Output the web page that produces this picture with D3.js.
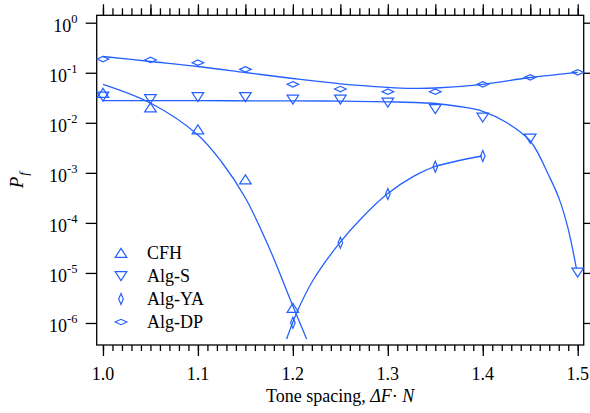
<!DOCTYPE html>
<html><head><meta charset="utf-8">
<script src="https://cdn.jsdelivr.net/npm/d3@7"></script>
<style>
body{margin:0;background:#fff}
svg{display:block}
text{font-family:"Liberation Serif","Times New Roman",serif;fill:#000}
</style>
</head><body>
<svg id="chart" width="590" height="413"></svg>
<script>
// ---------- data ----------
const seriesNames = ["CFH", "Alg-S", "Alg-YA", "Alg-DP"];

const cfhX    = [1.00, 1.05, 1.10, 1.15, 1.20];
const cfhVals = [0.0394, 0.0202, 0.00735, 7.36e-4, 2.0e-6];

const algSX    = [1.00, 1.05, 1.10, 1.15, 1.20, 1.25, 1.30, 1.35, 1.40, 1.45, 1.50];
const algSVals = [0.0335, 0.0299, 0.0328, 0.0328, 0.0292, 0.0292, 0.0255, 0.0189, 0.0128, 0.00486, 1.02e-5];

const algYAX    = [1.20, 1.25, 1.30, 1.35, 1.40];
const algYAVals = [1.01e-6, 4.02e-5, 3.78e-4, 1.33e-3, 2.17e-3];

const algDPX    = [1.00, 1.05, 1.10, 1.15, 1.20, 1.25, 1.30, 1.35, 1.40, 1.45, 1.50];
const algDPVals = [0.188, 0.180, 0.159, 0.117, 0.0588, 0.0473, 0.0418, 0.0418, 0.0588, 0.0811, 0.102];

// fitted curves
const cfhFitX    = [1.00, 1.05, 1.10, 1.125, 1.15, 1.175, 1.20, 1.2145];
const cfhFitVals = [0.0588, 0.02486, 0.00571, 0.001647, 3.145e-4, 3.2e-5, 2.186e-6, 4.79e-7];

const algSFitX    = [1.00, 1.10, 1.20, 1.25, 1.30, 1.35, 1.375, 1.40, 1.425, 1.45, 1.4705, 1.4803, 1.4898, 1.4986];
const algSFitVals = [0.02764, 0.02764, 0.02739, 0.02714, 0.02628, 0.02429, 0.02117, 0.01700, 0.01014, 0.004329, 8.12e-4, 3.09e-4, 7.78e-5, 1.238e-5];

const algYAFitX    = [1.1934, 1.2045, 1.2214, 1.2495, 1.274, 1.2993, 1.3266, 1.3495, 1.3993];
const algYAFitVals = [4.79e-7, 1.68e-6, 7.23e-6, 4.02e-5, 1.342e-4, 3.78e-4, 8.38e-4, 1.327e-3, 2.17e-3];

const algDPFitX    = [1.00, 1.05, 1.10, 1.15, 1.20, 1.25, 1.30, 1.325, 1.35, 1.40, 1.45, 1.50];
const algDPFitVals = [0.2112, 0.1678, 0.1333, 0.1012, 0.0767, 0.0601, 0.0512, 0.0489, 0.0496, 0.0588, 0.0804, 0.1021];

const xTickLabels = ["1.0", "1.1", "1.2", "1.3", "1.4", "1.5"];
const xTickVals   = [1.0, 1.1, 1.2, 1.3, 1.4, 1.5];
const yTickVals   = [1, 1e-1, 1e-2, 1e-3, 1e-4, 1e-5, 1e-6];
const yTickExp    = ["0", "-1", "-2", "-3", "-4", "-5", "-6"];

// ---------- layout ----------
const blue = "#2461ff";
const L = 96.7, R = 583.7, T = 15.3, B = 345;
const svg = d3.select("#chart");

const x = d3.scaleLinear().domain([0.9934, 1.5063]).range([L, R]);
const y = d3.scaleLog().domain([Math.pow(10, -6.44), Math.pow(10, 0.148)]).range([B, T]);

svg.append("defs").append("clipPath").attr("id", "clip")
  .append("rect").attr("x", L).attr("y", T).attr("width", R - L).attr("height", B - T);

// ---------- axes ----------
const minorX = d3.range(100, 151).map(d => d / 100);
const midX = d3.range(20, 31).map(d => d / 20);

function styleAxis(g) {
  g.select(".domain").remove();
  g.selectAll(".tick line").attr("stroke", "#000").attr("stroke-width", 1.3);
  g.selectAll(".tick text").remove();
}

svg.append("g").attr("transform", `translate(0,${B})`)
  .call(d3.axisBottom(x).tickValues(minorX).tickSize(6)).call(styleAxis);
svg.append("g").attr("transform", `translate(0,${B})`)
  .call(d3.axisBottom(x).tickValues(xTickVals).tickSize(11)).call(styleAxis);
svg.append("g").attr("transform", `translate(0,${T})`)
  .call(d3.axisTop(x).tickValues(minorX).tickSize(7)).call(styleAxis);
svg.append("g").attr("transform", `translate(0,${T})`)
  .call(d3.axisTop(x).tickValues(midX).tickSize(11)).call(styleAxis);
svg.append("g").attr("transform", `translate(${L},0)`)
  .call(d3.axisLeft(y).tickValues(yTickVals).tickSize(11)).call(styleAxis);
svg.append("g").attr("transform", `translate(${R},0)`)
  .call(d3.axisRight(y).tickValues(yTickVals).tickSize(7)).call(styleAxis);

svg.append("rect").attr("x", L).attr("y", T).attr("width", R - L).attr("height", B - T)
  .attr("fill", "none").attr("stroke", "#000").attr("stroke-width", 1.3);

svg.append("g").selectAll("text").data(xTickVals).join("text")
  .attr("x", d => x(d)).attr("y", 380).attr("text-anchor", "middle")
  .attr("font-size", 18).text((d, i) => xTickLabels[i]);

const yl = svg.append("g").selectAll("text").data(yTickVals).join("text")
  .attr("x", 77.5).attr("y", d => y(d) + 9).attr("text-anchor", "end").attr("font-size", 18);
yl.append("tspan").text("10");
yl.append("tspan").attr("dy", -9).attr("font-size", 12.5).text((d, i) => yTickExp[i]);

const xt = svg.append("text").attr("x", (L + R) / 2).attr("y", 402).attr("text-anchor", "middle").attr("font-size", 18);
xt.append("tspan").text("Tone spacing, ");
xt.append("tspan").attr("font-style", "italic").text("ΔF");
xt.append("tspan").text("· ");
xt.append("tspan").attr("font-style", "italic").text("N");

const yt = svg.append("text").attr("transform", `translate(23,${(T + B) / 2}) rotate(-90)`)
  .attr("text-anchor", "middle").attr("font-size", 19).attr("font-style", "italic");
yt.append("tspan").text("P");
yt.append("tspan").attr("font-size", 13).attr("dy", 5).attr("dx", 1).text("f");

// ---------- curves ----------
const line = d3.line().x(d => x(d[0])).y(d => y(d[1])).curve(d3.curveCatmullRom.alpha(0.5));
const plot = svg.append("g").attr("clip-path", "url(#clip)");
[[cfhFitX, cfhFitVals], [algSFitX, algSFitVals], [algYAFitX, algYAFitVals], [algDPFitX, algDPFitVals]]
  .forEach(([xs, vs]) => {
    plot.append("path").datum(xs.map((v, i) => [v, vs[i]]))
      .attr("d", line).attr("fill", "none").attr("stroke", blue).attr("stroke-width", 1.3);
  });

// ---------- markers ----------
const shapes = {
  "CFH":    "M0,-4.6L5.8,4.4L-5.8,4.4Z",
  "Alg-S":  "M0,4.6L5.8,-4.4L-5.8,-4.4Z",
  "Alg-YA": "M0,-5.5L2.3,0L0,5.5L-2.3,0Z",
  "Alg-DP": "M-5.8,0L0,-2.7L5.8,0L0,2.7Z"
};
const markerSets = [
  ["CFH", cfhX, cfhVals], ["Alg-S", algSX, algSVals],
  ["Alg-YA", algYAX, algYAVals], ["Alg-DP", algDPX, algDPVals]
];
markerSets.forEach(([name, xs, vs]) => {
  svg.append("g").selectAll("path").data(xs.map((v, i) => [v, vs[i]])).join("path")
    .attr("transform", d => `translate(${x(d[0])},${y(d[1])})`)
    .attr("d", shapes[name]).attr("fill", "none").attr("stroke", blue).attr("stroke-width", 1.2);
});

// ---------- legend ----------
const leg = svg.append("g").selectAll("g").data(seriesNames).join("g")
  .attr("transform", (d, i) => `translate(121,${253 + i * 23})`);
leg.append("path").attr("d", d => shapes[d]).attr("fill", "none").attr("stroke", blue).attr("stroke-width", 1.2);
leg.append("text").attr("x", 26).attr("y", 6).attr("font-size", 18).text(d => d);
</script>
</body></html>
